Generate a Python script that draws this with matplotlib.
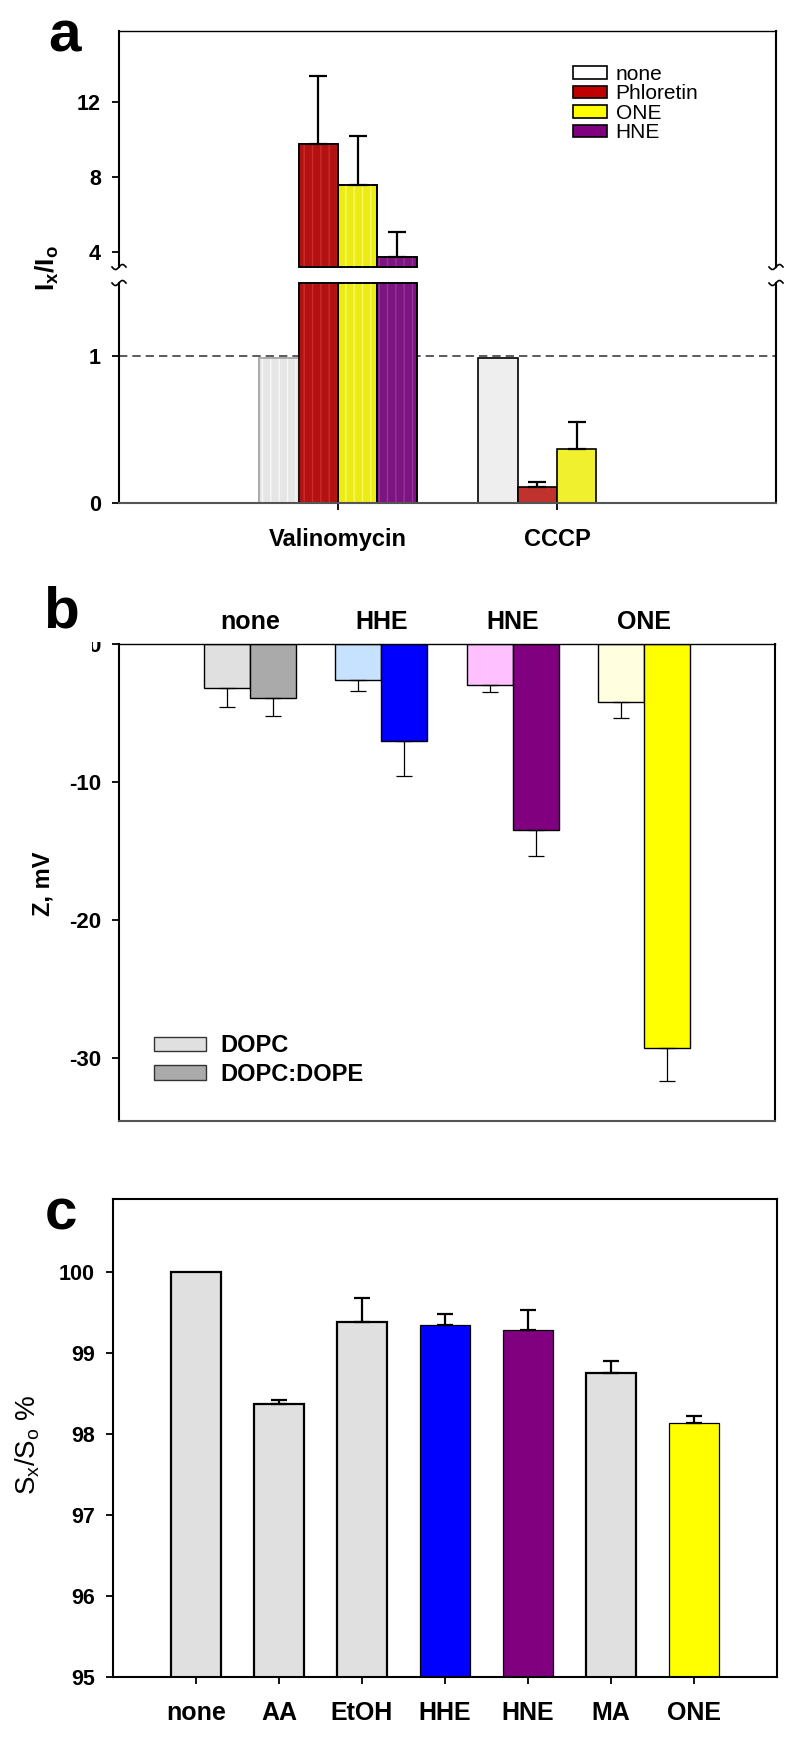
import numpy as np
import matplotlib
matplotlib.use('Agg')
import matplotlib.pyplot as plt
from matplotlib.patches import Patch
from matplotlib.lines import Line2D
from matplotlib.transforms import Bbox, TransformedBbox

plt.rcParams['font.family'] = 'Liberation Sans'
plt.rcParams['mathtext.fontset'] = 'custom'
plt.rcParams['mathtext.rm'] = 'Liberation Sans'
plt.rcParams['mathtext.it'] = 'Liberation Sans:italic'
plt.rcParams['mathtext.bf'] = 'Liberation Sans:bold'
plt.rcParams['hatch.linewidth'] = 1.0
plt.rcParams['axes.unicode_minus'] = False

# ---- panel a data ----
a_groups = ['Valinomycin', 'CCCP']
a_series = ['none', 'Phloretin', 'ONE', 'HNE']
val_mean = [0.99, 9.76, 7.57, 3.73]
val_err = [0.0, 3.63, 2.62, 1.34]
cccp_mean = [0.99, 0.11, 0.37]
cccp_err = [0.0, 0.03, 0.18]
val_face = ['#e6e6e6', '#b31212', '#ecec14', '#7d1580']
val_stripe = ['#f7f7f7', '#cf2a2a', '#f8f860', '#97339c']
val_edge = ['#aaaaaa', 'black', 'black', 'black']
cccp_face = ['#eeeeee', '#c0322d', '#f0f02e']
legend_a_colors = ['white', '#c00000', '#ffff00', '#800080']

# ---- panel b data ----
b_groups = ['none', 'HHE', 'HNE', 'ONE']
dopc_mean = [-3.2, -2.58, -2.94, -4.24]
dopc_err = [1.4, 0.82, 0.55, 1.11]
dope_mean = [-3.95, -7.0, -13.5, -29.3]
dope_err = [1.25, 2.57, 1.9, 2.4]
dopc_colors = ['#e0e0e0', '#c6e2ff', '#ffc0ff', '#ffffe0']
dope_colors = ['#aaaaaa', '#0000ff', '#800080', '#ffff00']

# ---- panel c data ----
c_cats = ['none', 'AA', 'EtOH', 'HHE', 'HNE', 'MA', 'ONE']
c_mean = [100.0, 98.37, 99.38, 99.34, 99.28, 98.75, 98.13]
c_err = [0.0, 0.05, 0.30, 0.14, 0.25, 0.15, 0.09]
c_colors = ['#e0e0e0', '#e0e0e0', '#e0e0e0', '#0000ff', '#800080', '#e0e0e0', '#ffff00']

W, H = 800, 1738
fig = plt.figure(figsize=(W / 100, H / 100), dpi=100)


def px_axes(l, t, r, b):
    return fig.add_axes([l / W, 1 - b / H, (r - l) / W, (b - t) / H])


def break_mark(xp, yp):
    t = np.linspace(-1, 1, 40)
    xs = xp + 7 * t
    ys = yp - 2.5 * np.sin(np.pi * t)
    fig.add_artist(Line2D(xs / W, 1 - ys / H, transform=fig.transFigure,
                          color='black', lw=1.2))


def style_ticks(ax, size):
    ax.tick_params(direction='out', length=5, width=1.3, labelsize=size)
    for lbl in ax.get_xticklabels() + ax.get_yticklabels():
        lbl.set_fontweight('bold')


# ================= panel a =================
ax_up = px_axes(119, 31, 776, 267)
ax_lo = px_axes(119, 283, 776, 503)
lo_top, up_bot, up_top = 1.5, 3.2, 15.8
w_a = 0.18
offs = (np.arange(4) - 1.5) * w_a

# Valinomycin (striped bars)
xv = 1 + offs
lo_h = np.minimum(val_mean, lo_top)
for i in range(4):
    ax_lo.bar(xv[i], lo_h[i], w_a, color=val_face[i], edgecolor=val_edge[i],
              lw=1.2, clip_on=False, zorder=2)
    ax_lo.bar(xv[i], lo_h[i], w_a, fill=False, edgecolor=val_stripe[i],
              hatch='||', lw=0, clip_on=False, zorder=2.1)
    ax_lo.bar(xv[i], lo_h[i], w_a, fill=False, edgecolor=val_edge[i],
              lw=1.2, clip_on=False, zorder=2.2)
    if val_mean[i] > up_bot:
        hh = val_mean[i] - up_bot
        ax_up.bar(xv[i], hh, w_a, bottom=up_bot, color=val_face[i],
                  edgecolor='black', lw=1.2, clip_on=False, zorder=2)
        ax_up.bar(xv[i], hh, w_a, bottom=up_bot, fill=False,
                  edgecolor=val_stripe[i], hatch='||', lw=0, clip_on=False, zorder=2.1)
        ax_up.bar(xv[i], hh, w_a, bottom=up_bot, fill=False,
                  edgecolor='black', lw=1.2, clip_on=False, zorder=2.2)
        ax_up.errorbar(xv[i], val_mean[i], yerr=[[0], [val_err[i]]], fmt='none',
                       ecolor='black', elinewidth=1.6, capsize=6.5, capthick=1.6, zorder=3)

# CCCP
xc = 2 + offs[:3]
ax_lo.bar(xc, cccp_mean, w_a, color=cccp_face, edgecolor='black', lw=1.2, zorder=2)
for i in range(1, 3):
    ax_lo.errorbar(xc[i], cccp_mean[i], yerr=[[0], [cccp_err[i]]], fmt='none',
                   ecolor='black', elinewidth=1.6, capsize=6.5, capthick=1.6, zorder=3)

ax_lo.axhline(1, color='#404040', ls=(0, (5, 3)), lw=1.2, zorder=1)

for ax in (ax_up, ax_lo):
    ax.set_xlim(0, 3)
    ax.spines['left'].set_linewidth(1.5)
    ax.spines['right'].set_linewidth(1.5)
ax_up.set_ylim(up_bot, up_top)
ax_lo.set_ylim(0, lo_top)
ax_up.spines['bottom'].set_visible(False)
ax_up.spines['top'].set_linewidth(1.0)
ax_lo.spines['top'].set_visible(False)
ax_lo.spines['bottom'].set_color('#555555')
ax_lo.spines['bottom'].set_linewidth(1.5)
ax_up.set_xticks([])
ax_up.set_yticks([4, 8, 12])
ax_lo.set_yticks([0, 1])
ax_lo.set_xticks([1, 2])
ax_lo.set_xticklabels(a_groups)
style_ticks(ax_up, 15.5)
style_ticks(ax_lo, 15.5)
ax_up.tick_params(axis='y', pad=8)
ax_lo.tick_params(axis='y', pad=8)
ax_lo.tick_params(axis='x', pad=13, labelsize=17)

for xp in (119, 776):
    break_mark(xp, 267)
    break_mark(xp, 283)

ax_up.legend([Patch(facecolor=c, edgecolor='black', lw=1.2) for c in legend_a_colors],
             a_series, loc='upper left', bbox_to_anchor=(573 / W, 1 - 65 / H),
             bbox_transform=fig.transFigure, frameon=False, fontsize=15,
             handlelength=1.65, handleheight=0.55, handletextpad=0.4,
             labelspacing=0.02, borderpad=0, borderaxespad=0)

fig.text(47 / W, 1 - 268 / H, r'$\mathbf{I_x/I_o}$', rotation=90, ha='center',
         va='center', fontsize=19)
fig.text(48 / W, 1 - 52 / H, 'a', fontsize=42, fontweight='bold', va='baseline')

# ================= panel b =================
ax_b = px_axes(119, 644, 775, 1121)
w_b = 0.35
xb = np.arange(1, 5)
ax_b.bar(xb - w_b / 2, dopc_mean, w_b, color=dopc_colors, edgecolor='black', lw=1.0, zorder=2)
ax_b.bar(xb + w_b / 2, dope_mean, w_b, color=dope_colors, edgecolor='black', lw=1.0, zorder=2)
ax_b.errorbar(xb - w_b / 2, dopc_mean, yerr=[dopc_err, np.zeros(4)], fmt='none',
              ecolor='black', elinewidth=0.9, capsize=5.5, capthick=0.9, zorder=3)
ax_b.errorbar(xb + w_b / 2, dope_mean, yerr=[dope_err, np.zeros(4)], fmt='none',
              ecolor='black', elinewidth=0.9, capsize=5.5, capthick=0.9, zorder=3)
ax_b.set_xlim(0, 5)
ax_b.set_ylim(-34.6, 0)
ax_b.set_yticks([-30, -20, -10, 0])
ax_b.set_xticks(xb)
ax_b.set_xticklabels(b_groups)
ax_b.xaxis.tick_top()
style_ticks(ax_b, 16)
ax_b.tick_params(axis='x', length=0, pad=7, labelsize=18)
ax_b.tick_params(axis='y', pad=8)
ax_b.spines['left'].set_linewidth(1.5)
ax_b.spines['right'].set_linewidth(1.5)
ax_b.spines['top'].set_linewidth(1.0)
ax_b.spines['bottom'].set_color('#555555')
ax_b.spines['bottom'].set_linewidth(1.5)
zero_lbl = ax_b.get_yticklabels()[-1]
zero_lbl.set_clip_on(True)
zero_lbl.set_clip_box(TransformedBbox(Bbox([[92 / W, 0], [1, 1 - 642 / H]]), fig.transFigure))

ax_b.legend([Patch(facecolor=dopc_colors[0], edgecolor='#333333', lw=1.0),
             Patch(facecolor=dope_colors[0], edgecolor='#333333', lw=1.0)],
            ['DOPC', 'DOPC:DOPE'], loc='upper left', bbox_to_anchor=(154 / W, 1 - 1034 / H),
            bbox_transform=fig.transFigure, frameon=False,
            prop={'weight': 'bold', 'size': 17}, handlelength=2.2, handleheight=0.55,
            handletextpad=0.6, labelspacing=0.25, borderpad=0, borderaxespad=0)

fig.text(43 / W, 1 - 884 / H, 'Z, mV', rotation=90, ha='center', va='center',
         fontsize=17, fontweight='bold')
fig.text(43 / W, 1 - 628 / H, 'b', fontsize=42, fontweight='bold', va='baseline')

# ================= panel c =================
ax_c = px_axes(113, 1199, 777, 1677)
xcc = np.arange(1, 8)
bars = ax_c.bar(xcc, c_mean, 0.61, color=c_colors, edgecolor='black', zorder=2)
for b, col in zip(bars, c_colors):
    b.set_linewidth(1.6 if col == '#e0e0e0' else 0.9)
has_err = np.array(c_err) > 0
ax_c.errorbar(xcc[has_err], np.array(c_mean)[has_err],
              yerr=[np.zeros(has_err.sum()), np.array(c_err)[has_err]], fmt='none',
              ecolor='black', elinewidth=1.6, capsize=6, capthick=1.6, zorder=3)
ax_c.set_xlim(0, 8)
ax_c.set_ylim(95, 100.9)
ax_c.set_yticks([95, 96, 97, 98, 99, 100])
ax_c.set_xticks(xcc)
ax_c.set_xticklabels(c_cats)
style_ticks(ax_c, 15.5)
ax_c.tick_params(axis='x', pad=12, labelsize=18)
ax_c.tick_params(axis='y', pad=8)
for s in ax_c.spines.values():
    s.set_linewidth(1.5)

fig.text(28 / W, 1 - 1445 / H, r'$\mathrm{S_x/S_o}$ %', rotation=90, ha='center',
         va='center', fontsize=20)
fig.text(45 / W, 1 - 1230 / H, 'c', fontsize=42, fontweight='bold', va='baseline')

fig.savefig('out.png', dpi=100)
